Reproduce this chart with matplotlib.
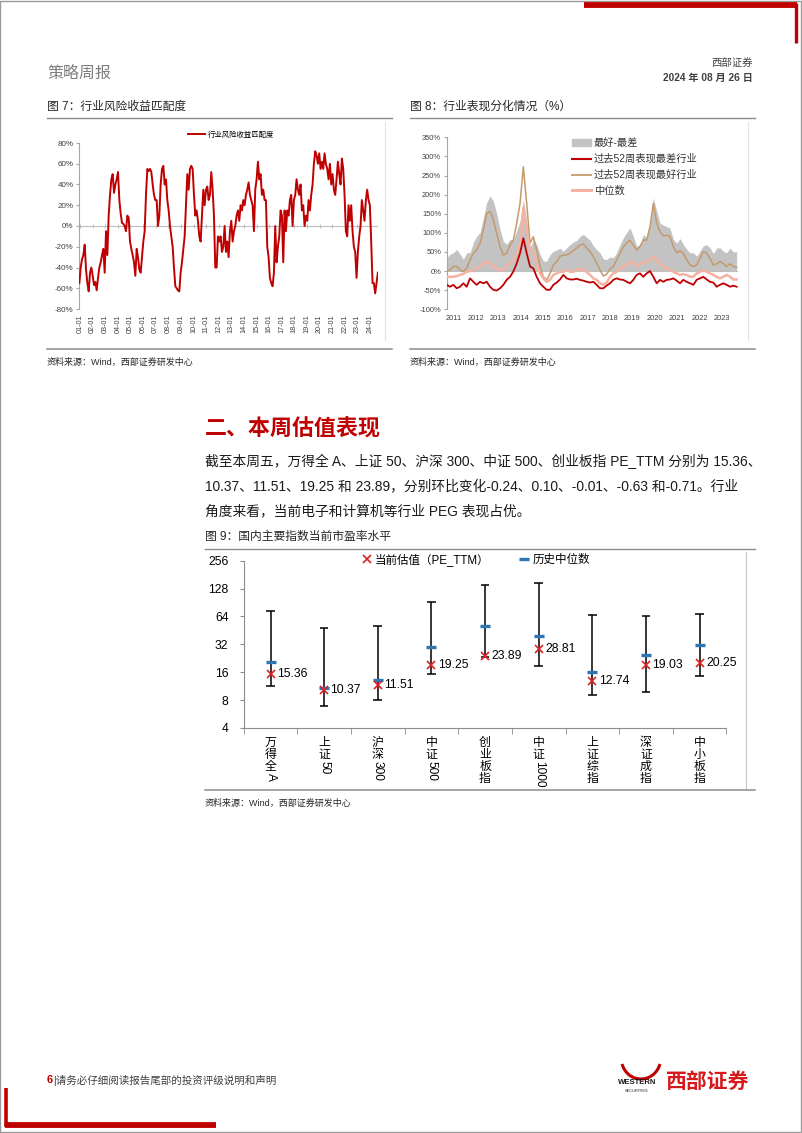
import re

import numpy as np
import pandas as pd
import matplotlib
matplotlib.use('Agg')
import matplotlib.pyplot as plt
import matplotlib.dates as mdates
import matplotlib.transforms as mtransforms
from matplotlib.lines import Line2D
from matplotlib.patches import Patch, Rectangle, PathPatch
from matplotlib.path import Path

plt.rcParams['font.family'] = ['Liberation Sans', 'Noto Sans CJK SC']
plt.rcParams['axes.unicode_minus'] = False

W, H = 802, 1133

# ---- 图7: 行业风险收益匹配度 (%), evenly spaced in time
risk_match = [
    -55, -40, -32, -28, -18, -42, -55, -63, -45, -40, -48, -57, -54, -62, -50, -40,
    -35, -28, -22, -45, -5, -28, 10, 30, 45, 50, 32, 40, 45, 52, 25, 12,
    3, 2, 0, -5, 10, 8, -15, -22, -28, -35, -48, -22, -30, -42, -45, -30,
    -15, -5, 30, 55, 53, 55, 52, 40, 30, 25, 25, 0, 10, 40, 55, 58,
    40, 45, 25, 15, 0, -10, -20, -40, -58, -60, -62, -63, -45, -35, -22, -10,
    20, 50, 35, 55, 58, 55, 30, 10, 15, 5, -10, -15, 10, 35, 20, 35,
    38, 25, 30, 52, 35, 10, -40, -40, -10, -15, -10, -25, -20, 0, -25, -15,
    -30, -5, 5, -15, -5, 0, 10, 15, 5, 20, 15, 25, 20, 30, 35, 42,
    30, 25, 20, -5, 35, 45, 62, 45, 50, 30, 35, 25, 25, -20, -30, -50,
    -55, -58, -45, 0, -35, -20, -10, 15, 10, -35, 15, -5, 15, 10, 25, 30,
    0, 25, 30, 45, 35, 30, 40, 15, 20, 0, 10, 5, 25, 15, 30, 40,
    60, 72, 68, 60, 70, 55, 62, 55, 70, 60, 55, 45, 60, 40, 50, 35,
    30, 45, 62, 50, 40, 65, 55, 30, -5, -10, 20, 5, 20, -5, -20, -25,
    -50, -25, -10, 0, 25, 15, 5, 25, 35, 25, 20, -15, -55, -55, -65, -55,
    -45,
]
risk_start, risk_end = '2000-12-12', '2024-08-16'

# ---- 图8: 行业表现分化情况 (%), 过去52周
perf_start, perf_end = '2010-09-12', '2023-09-01'
worst_ind = [
    -36, -41, -36, -45, -41, -32, -41, -19, -28, -36, -28, -32, -28, -41, -49, -51,
    -45, -36, -23, -15, -1, 20, 47, 86, 47, 12, 7, -15, -32, -41, -49, -49,
    -36, -30, -22, -10, -19, -22, -22, -20, -23, -25, -28, -30, -28, -36, -45, -45,
    -38, -32, -23, -19, -22, -23, -28, -32, -23, -10, -6, -15, -6, 0, -15, -32,
    -23, -28, -23, -22, -19, -25, -32, -23, -28, -32, -36, -23, -19, -15, -22, -28,
    -30, -41, -36, -32, -36, -41, -38, -41,
]
best_ind = [
    -1, 3, 12, 12, 3, -1, 7, 29, 47, 55, 73, 107, 151, 156, 134, 99,
    64, 42, 47, 68, 81, 125, 177, 273, 177, 73, 90, 55, 12, -15, -23, -6,
    16, 25, 38, 42, 42, 47, 54, 60, 68, 71, 60, 51, 38, 20, 3, -13,
    -8, 5, 12, 29, 47, 64, 73, 81, 68, 55, 64, 81, 81, 116, 177, 125,
    103, 92, 94, 90, 64, 48, 53, 47, 29, 16, 12, 16, 33, 51, 47, 33,
    16, 19, 25, 20, 12, 19, 12, 10,
]
median_ind = [
    -15, -15, -15, -13, -10, -7, -2, 0, 3, 7, 12, 20, 25, 20, 12, 7,
    3, 3, 12, 20, 29, 47, 73, 165, 110, 55, 47, 20, -6, -19, -28, -23,
    -10, -6, -2, -2, 3, -2, -2, 3, 7, 3, -2, -10, -19, -23, -32, -36,
    -30, -15, -6, -2, 7, 12, 16, 25, 20, 12, 20, 20, 25, 29, 38, 29,
    20, 12, 7, 3, -2, -6, -10, -8, -10, -15, -15, -6, -2, 3, -2, -6,
    -10, -15, -19, -15, -10, -15, -22, -22,
]

# ---- 图9: 国内主要指数当前市盈率水平
indices = ['万得全A', '上证50', '沪深300', '中证500', '创业板指', '中证1000', '上证综指', '深证成指', '中小板指']
pe_now = [15.36, 10.37, 11.51, 19.25, 23.89, 28.81, 12.74, 19.03, 20.25]
pe_median = [20.4, 10.9, 13.2, 29.8, 50.2, 38.9, 16.0, 24.4, 31.3]
pe_max = [74, 48.5, 50.6, 92.5, 139, 146, 67, 64, 68]
pe_min = [11.5, 6.96, 8.0, 15.5, 23.2, 18.9, 9.0, 9.9, 14.6]

RED = '#C00000'
GRAY_LINE = '#8C8C8C'
TXT = '#262626'

fig = plt.figure(figsize=(W / 100, H / 100), dpi=100)
fig.patch.set_facecolor('white')


def page_axes(x0, y0, x1, y1):
    return fig.add_axes([x0 / W, 1 - y1 / H, (x1 - x0) / W, (y1 - y0) / H])


def page_line(x0, y0, x1, y1, **kw):
    fig.add_artist(Line2D([x0 / W, x1 / W], [1 - y0 / H, 1 - y1 / H],
                          transform=fig.transFigure, **kw))


def page_text(x, y, s, **kw):
    kw.setdefault('va', 'center')
    return fig.text(x / W, 1 - y / H, s, **kw)


# ---- page frame and decorations
fig.add_artist(Rectangle((0.0006, 0.0005), 0.9985, 0.9985, transform=fig.transFigure,
                         fill=False, edgecolor='#9A9A9A', lw=1.0))
page_line(584, 5, 797, 5, color=RED, lw=4.2, solid_capstyle='butt')
page_line(795.5, 3, 795.5, 43, color=RED, lw=2.4, solid_capstyle='butt')
page_line(6, 1088, 6, 1127, color=RED, lw=2.6, solid_capstyle='butt')
page_line(5, 1125, 216, 1125, color=RED, lw=4.2, solid_capstyle='butt')

# header
page_text(47, 73, '策略周报', fontsize=11.5, color='#7F7F7F')
page_text(753, 63, '西部证券', fontsize=7.5, color='#404040', ha='right')
page_text(753, 78, '2024 年 08 月 26 日', fontsize=7.3, color='#404040', ha='right', fontweight='bold')

# figure titles and separators
page_text(47, 107, '图 7：行业风险收益匹配度', fontsize=8.5, color=TXT)
page_text(410, 107, '图 8：行业表现分化情况（%）', fontsize=8.5, color=TXT)
page_line(47, 118, 392, 118, color=GRAY_LINE, lw=1.0)
page_line(410, 118, 755, 118, color=GRAY_LINE, lw=1.0)
page_line(385, 122, 385, 340, color='#E3E3E3', lw=0.8)
page_line(748, 122, 748, 340, color='#E3E3E3', lw=0.8)
page_line(47, 349, 392, 349, color=GRAY_LINE, lw=1.1)
page_line(410, 349, 755, 349, color=GRAY_LINE, lw=1.1)
page_text(47, 362, '资料来源：Wind，西部证券研发中心', fontsize=6.5, color=TXT)
page_text(410, 362, '资料来源：Wind，西部证券研发中心', fontsize=6.5, color=TXT)

# ---- chart 7
risk_dates = pd.date_range(risk_start, risk_end, periods=len(risk_match))
ax7 = page_axes(79.3, 143, 378, 309)
ax7.axhline(0, color='#BFBFBF', lw=0.8, zorder=1)
ax7.plot(risk_dates, risk_match, color=RED, lw=1.4, zorder=3, label='行业风险收益匹配度')
ax7.set_ylim(-80, 80)
ax7.set_xlim(pd.Timestamp('2000-12-10'), pd.Timestamp('2024-08-20'))
ax7.set_yticks(range(-80, 81, 20))
ax7.yaxis.set_major_formatter(lambda v, p: f'{v:.0f}%')
ax7.xaxis.set_major_locator(mdates.YearLocator())
ax7.xaxis.set_major_formatter(mdates.DateFormatter('%y-%m'))
ax7.tick_params(axis='x', rotation=90, length=0, labelsize=5.2, pad=4, colors='#404040')
ax7.tick_params(axis='y', length=2, labelsize=5.8, pad=2, colors='#404040', color='#A6A6A6')
for s in ['top', 'right', 'bottom']:
    ax7.spines[s].set_visible(False)
ax7.spines['left'].set_color('#A6A6A6')
zero7 = ax7.secondary_xaxis(0.5)
zero7.xaxis.set_major_locator(mdates.YearLocator())
zero7.tick_params(axis='x', direction='inout', length=3, color='#BFBFBF',
                  labelbottom=False, labeltop=False)
for s in zero7.spines.values():
    s.set_visible(False)
ax7.legend(loc='upper left', bbox_to_anchor=(188 / W, 1 - 131 / H), bbox_transform=fig.transFigure,
           frameon=False, fontsize=5.3, handlelength=2.3, borderpad=0, borderaxespad=0,
           handletextpad=0.4)

# ---- chart 8
perf_dates = pd.date_range(perf_start, perf_end, periods=len(best_ind))
spread = np.array(best_ind) - np.array(worst_ind)
ax8 = page_axes(446.7, 137.3, 738.3, 309.3)
ax8.fill_between(perf_dates, 0, spread, color='#C3C3C3', lw=0, zorder=1)
ax8.axhline(0, color='#BFBFBF', lw=0.8, zorder=1.5)
ax8.plot(perf_dates, best_ind, color='#C49A6C', lw=1.1, zorder=2)
ax8.plot(perf_dates, median_ind, color='#F4B2A2', lw=1.8, zorder=3)
ax8.plot(perf_dates, worst_ind, color=RED, lw=1.3, zorder=4)
ax8.set_ylim(-100, 350)
ax8.set_xlim(pd.Timestamp(perf_start), pd.Timestamp('2023-09-28'))
ax8.set_yticks(range(-100, 351, 50))
ax8.yaxis.set_major_formatter(lambda v, p: f'{v:.0f}%')
ax8.xaxis.set_major_locator(mdates.YearLocator())
ax8.xaxis.set_major_formatter(mdates.DateFormatter('%Y'))
ax8.tick_params(axis='x', length=0, labelsize=5.4, pad=4, colors='#404040')
ax8.tick_params(axis='y', length=2, labelsize=5.4, pad=2, colors='#404040', color='#A6A6A6')
for s in ['top', 'right', 'bottom']:
    ax8.spines[s].set_visible(False)
ax8.spines['left'].set_color('#A6A6A6')
h8 = [Patch(color='#C3C3C3'), Line2D([], [], color=RED, lw=1.5),
      Line2D([], [], color='#C49A6C', lw=1.3), Line2D([], [], color='#F4B2A2', lw=2.2)]
l8 = ['最好-最差', '过去52周表现最差行业', '过去52周表现最好行业', '中位数']
ax8.legend(h8, l8, loc='upper left', bbox_to_anchor=(572 / W, 1 - 138 / H),
           bbox_transform=fig.transFigure, frameon=False, fontsize=7.4, handlelength=1.8,
           handleheight=0.6, borderpad=0, borderaxespad=0, handletextpad=0.3, labelspacing=0.55,
           labelcolor='#333333')

# ---- section text
page_text(205, 430, '二、本周估值表现', fontsize=15.8, color=RED, fontweight='bold')
body = [
    '截至本周五，万得全 A、上证 50、沪深 300、中证 500、创业板指 PE_TTM 分别为 15.36、',
    '10.37、11.51、19.25 和 23.89，分别环比变化-0.24、0.10、-0.01、-0.63 和-0.71。行业',
    '角度来看，当前电子和计算机等行业 PEG 表现占优。',
]
for i, line in enumerate(body):
    page_text(205, 461 + 25 * i, line, fontsize=9.9, color='#1A1A1A')

# ---- chart 9
page_text(205, 537, '图 9：国内主要指数当前市盈率水平', fontsize=8.5, color=TXT)
page_line(205, 549, 755, 549, color=GRAY_LINE, lw=1.0)
page_line(746, 552, 746, 788, color='#C8C8C8', lw=0.8)
page_line(205, 790, 755, 790, color=GRAY_LINE, lw=1.1)
page_text(205, 803, '资料来源：Wind，西部证券研发中心', fontsize=6.5, color=TXT)

ax9 = page_axes(243.7, 560.7, 726.4, 728)
xs = np.arange(len(indices))
ax9.vlines(xs, pe_min, pe_max, color='black', lw=1.1, zorder=2)
ax9.hlines(pe_max, xs - 0.08, xs + 0.08, color='black', lw=1.1, zorder=2)
ax9.hlines(pe_min, xs - 0.08, xs + 0.08, color='black', lw=1.1, zorder=2)
ax9.plot(xs, pe_median, ls='none', marker='_', ms=7, mew=2.4, color='#2E75B6', zorder=3,
         label='历史中位数')
ax9.plot(xs, pe_now, ls='none', marker='x', ms=6, mew=1.2, color='#E02020', zorder=4,
         label='当前估值（PE_TTM）')
for x, v in zip(xs, pe_now):
    ax9.text(x + 0.12, v, f'{v:.2f}', va='center', ha='left', fontsize=8.7, color='black')
ax9.set_yscale('log', base=2)
ax9.set_ylim(4, 256)
ax9.set_yticks([4, 8, 16, 32, 64, 128, 256])
ax9.yaxis.set_major_formatter(lambda v, p: f'{v:.0f}')
ax9.yaxis.set_minor_locator(matplotlib.ticker.NullLocator())
ax9.set_xlim(-0.5, len(indices) - 0.5)
ax9.set_xticks(xs)
ax9.set_xticklabels([])
ax9.set_xticks(np.arange(len(indices) + 1) - 0.5, minor=True)
ax9.tick_params(axis='x', which='major', length=0)
ax9.tick_params(axis='x', which='minor', length=4, color='#8C8C8C')
ax9.tick_params(axis='y', length=3, labelsize=8.7, pad=8, color='#8C8C8C', colors='black')
for s in ['top', 'right']:
    ax9.spines[s].set_visible(False)
ax9.spines['left'].set_color('#8C8C8C')
ax9.spines['bottom'].set_color('#8C8C8C')
hh, ll = ax9.get_legend_handles_labels()
ax9.legend(hh[::-1], ll[::-1], loc='upper center', bbox_to_anchor=(476 / W, 1 - 553 / H),
           bbox_transform=fig.transFigure, ncol=2, frameon=False, fontsize=8.3,
           handlelength=0.8, handletextpad=0.3, columnspacing=2.6, borderpad=0, borderaxespad=0)

# vertical category labels (CJK upright, Latin runs turned like Excel vertical text)
tr = mtransforms.blended_transform_factory(ax9.transData, fig.transFigure)
for x, name in zip(xs, indices):
    y = 737
    for tok in re.findall(r'[A-Za-z0-9]+|.', name):
        if tok.isascii():
            ax9.text(x, 1 - y / H, tok, rotation=270, ha='center', va='top', transform=tr,
                     fontsize=8.6, color='black')
            y += 6.7 * len(tok) + 2
        else:
            ax9.text(x, 1 - y / H, tok, ha='center', va='top', transform=tr,
                     fontsize=8.6, color='black')
            y += 12

# ---- footer
page_text(47, 1080, '6', fontsize=8, color=RED, fontweight='bold')
page_text(53, 1080, '|请务必仔细阅读报告尾部的投资评级说明和声明', fontsize=7.6, color='#404040')
horn = Path([(622 / W, 1 - 1064 / H), (628 / W, 1 - 1084 / H), (654 / W, 1 - 1084 / H),
             (660 / W, 1 - 1064 / H)], [Path.MOVETO, Path.CURVE4, Path.CURVE4, Path.CURVE4])
fig.add_artist(PathPatch(horn, transform=fig.transFigure, fill=False, edgecolor=RED, lw=2.2))
page_text(637, 1083, 'WESTERN', fontsize=5.6, color='#1A1A1A', fontweight='bold', ha='center')
page_text(637, 1091, 'SECURITIES', fontsize=2.8, color='#1A1A1A', ha='center')
page_text(708, 1082, '西部证券', fontsize=15, color='#D7191C', fontweight='bold', ha='center')

fig.savefig('out.png', dpi=100)
